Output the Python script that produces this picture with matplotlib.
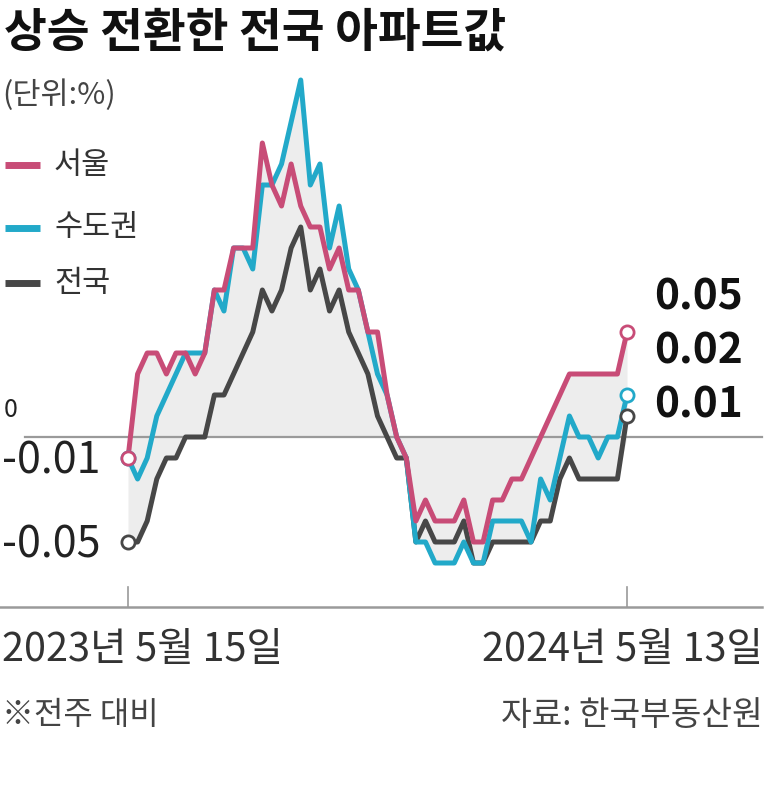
import matplotlib
matplotlib.use("Agg")
import matplotlib.pyplot as plt
from matplotlib.lines import Line2D
import numpy as np
import pandas as pd

plt.rcParams['font.family'] = ['Noto Sans CJK KR', 'DejaVu Sans']

# ---------------- data (weekly change, %) ----------------
dates = pd.date_range("2023-05-15", periods=53, freq="7D")
series_names = ["서울", "수도권", "전국"]
seoul = [-0.01, 0.03, 0.04, 0.04, 0.03, 0.04, 0.04, 0.03, 0.04, 0.07,
         0.07, 0.09, 0.09, 0.09, 0.14, 0.12, 0.11, 0.13, 0.11, 0.10,
         0.10, 0.08, 0.09, 0.07, 0.07, 0.05, 0.05, 0.02, 0.00, -0.01,
         -0.04, -0.03, -0.04, -0.04, -0.04, -0.03, -0.05, -0.05, -0.03, -0.03,
         -0.02, -0.02, -0.01, 0.00, 0.01, 0.02, 0.03, 0.03, 0.03, 0.03,
         0.03, 0.03, 0.05]
capital = [-0.01, -0.02, -0.01, 0.01, 0.02, 0.03, 0.04, 0.04, 0.04, 0.07,
           0.06, 0.09, 0.09, 0.08, 0.12, 0.12, 0.13, 0.15, 0.17, 0.12,
           0.13, 0.09, 0.11, 0.08, 0.07, 0.05, 0.03, 0.02, 0.00, -0.01,
           -0.05, -0.05, -0.06, -0.06, -0.06, -0.05, -0.06, -0.06, -0.04, -0.04,
           -0.04, -0.04, -0.05, -0.02, -0.03, -0.01, 0.01, 0.00, 0.00, -0.01,
           0.00, 0.00, 0.02]
national = [-0.05, -0.05, -0.04, -0.02, -0.01, -0.01, 0.00, 0.00, 0.00, 0.02,
            0.02, 0.03, 0.04, 0.05, 0.07, 0.06, 0.07, 0.09, 0.10, 0.07,
            0.08, 0.06, 0.07, 0.05, 0.04, 0.03, 0.01, 0.00, -0.01, -0.01,
            -0.05, -0.04, -0.05, -0.05, -0.05, -0.04, -0.06, -0.06, -0.05, -0.05,
            -0.05, -0.05, -0.05, -0.04, -0.04, -0.02, -0.01, -0.02, -0.02, -0.02,
            -0.02, -0.02, 0.01]

colors = ["#c84c77", "#22a9c9", "#474747"]

# ---------------- layout ----------------
W, H = 766, 800
fig = plt.figure(figsize=(W / 100, H / 100), dpi=100)
ax = fig.add_axes([0, 0, 1, 1])
ax.axis("off")

x_start_px, x_end_px = 128, 627
zero_px, px_per_unit = 437, 2100
n = len(dates)
step = (x_end_px - x_start_px) / (n - 1)
ax.set_xlim(-x_start_px / step, (W - x_start_px) / step)
ax.set_ylim((zero_px - H) / px_per_unit, zero_px / px_per_unit)

def fx(x):
    return x / W

def fy(y):
    return 1 - y / H

x = np.arange(n)
data = [np.array(seoul), np.array(capital), np.array(national)]
allv = np.vstack(data)
hi = np.maximum(allv.max(axis=0), 0)
lo = np.minimum(allv.min(axis=0), 0)
ax.fill_between(x, lo, hi, color="#ededed", lw=0, zorder=1)

# zero line
ax.axhline(0, xmin=fx(25), xmax=fx(762), color="#9a9a9a", lw=1.6, zorder=2)
# bottom baseline + ticks
fig.add_artist(Line2D([fx(0), fx(762)], [fy(607), fy(607)], color="#9a9a9a", lw=1.8))
for xi in (0, n - 1):
    ax.plot([xi, xi], [fy(587), fy(607)], transform=ax.get_xaxis_transform(),
            color="#9a9a9a", lw=1.2, zorder=2)

# lines (national, capital, seoul order so seoul on top)
for idx in (2, 1, 0):
    ax.plot(x, data[idx], color=colors[idx], lw=3.6, zorder=3 + (2 - idx),
            solid_joinstyle="round", solid_capstyle="round")

# markers at start and end
for idx in (2, 1, 0):
    for xi in (0, n - 1):
        ax.plot(x[xi], data[idx][xi], "o", ms=9.5, mfc="white", mec=colors[idx],
                mew=2.0, zorder=6 + (2 - idx))

# ---------------- texts ----------------
fig.text(fx(4), fy(33), "상승 전환한 전국 아파트값", fontsize=33.5, fontweight="bold",
         color="#111111", ha="left", va="center")
fig.text(fx(2), fy(95), "(단위:%)", fontsize=22, color="#444444", ha="left", va="center")

legend_y = [165, 228, 283]
for i, name in enumerate(series_names):
    fig.add_artist(Line2D([fx(5), fx(40)], [fy(legend_y[i]), fy(legend_y[i])],
                          color=colors[i], lw=5, solid_capstyle="butt"))
    fig.text(fx(54), fy(legend_y[i]), name, fontsize=22, color="#333333",
             ha="left", va="center")

# left value labels
fig.text(fx(4), fy(410), "0", fontsize=18, color="#222222", ha="left", va="center")
fig.text(fx(2), fy(462), f"{seoul[0]:.2f}", fontsize=31, color="#222222",
         ha="left", va="center")
fig.text(fx(2), fy(545), f"{national[0]:.2f}", fontsize=31, color="#222222",
         ha="left", va="center")

# right value labels
right_y = [297, 352, 405]
for i in range(3):
    fig.text(fx(654), fy(right_y[i]), f"{data[i][-1]:.2f}", fontsize=30.5,
             fontweight="bold", color="#111111", ha="left", va="center")

d0, d1 = dates[0], dates[-1]
fig.text(fx(2), fy(650), f"{d0.year}년 {d0.month}월 {d0.day}일", fontsize=28.5,
         color="#333333", ha="left", va="center")
fig.text(fx(763), fy(650), f"{d1.year}년 {d1.month}월 {d1.day}일", fontsize=28.5,
         color="#333333", ha="right", va="center")
fig.text(fx(2), fy(715), "※전주 대비", fontsize=23, color="#444444",
         ha="left", va="center")
fig.text(fx(763), fy(715), "자료: 한국부동산원", fontsize=24, color="#444444",
         ha="right", va="center")

fig.savefig("out.png", dpi=100, facecolor="white")
